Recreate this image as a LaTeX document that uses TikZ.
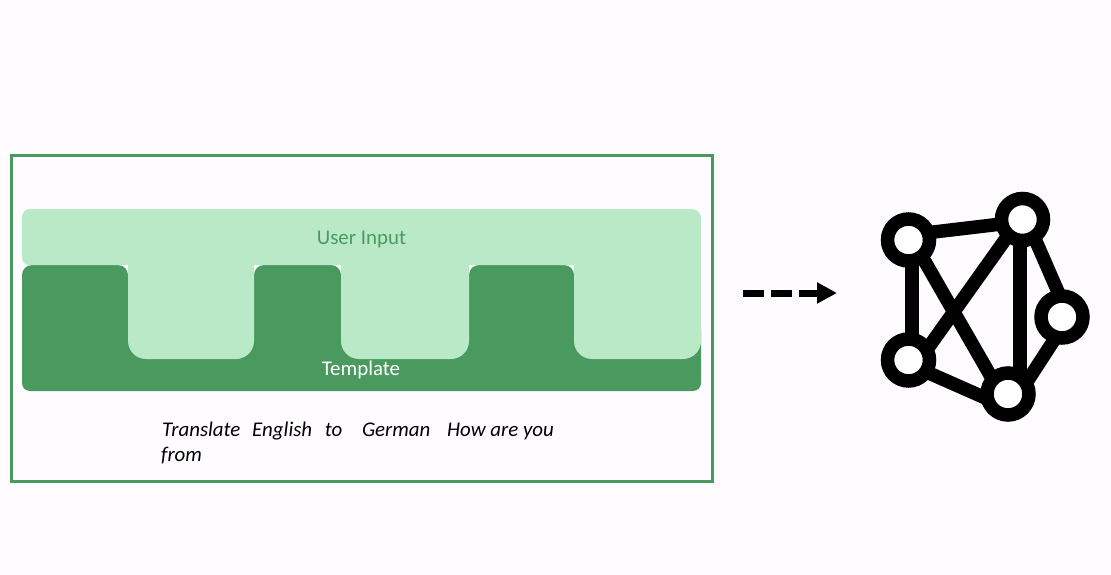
\documentclass[tikz,border=0pt]{standalone}
\usepackage{fontspec}
\setmainfont{Carlito}
\usetikzlibrary{arrows.meta}
\definecolor{dk}{HTML}{4A9A60}
\definecolor{lt}{HTML}{BAE9C8}
\definecolor{bgc}{HTML}{FEFCFE}
\pgfdeclarelayer{back}
\pgfdeclarelayer{edges}
\pgfsetlayers{back,edges,main}
\tikzset{
  netnode/.style={circle,draw=black,fill=white,line width=13.5pt,minimum size=42pt,inner sep=0pt},
  netedge/.style={draw=black,line width=13.5pt},
  lab/.style={font=\fontsize{20.9}{25}\selectfont,inner sep=0pt,anchor=base},
}
\begin{document}
\begin{tikzpicture}[x=1pt,y=-1pt]
\useasboundingbox (0,0) rectangle (1111,575);
\begin{pgfonlayer}{back}
\fill[bgc] (0,0) rectangle (1111,575);
\end{pgfonlayer}
% frame
\draw[dk,line width=3pt] (11.5,155.5) rectangle (712.5,481);
% notch corners
\fill[white] (254,265) rectangle (341,285);
\fill[white] (469,265) rectangle (574,285);
\fill[white] (118,265) rectangle (128,285);
% template
\fill[dk] (22,275) arc[start angle=180,end angle=270,radius=10] -- (118,265) arc[start angle=270,end angle=360,radius=10]
  -- (128,330) -- (254,330) -- (254,275) arc[start angle=180,end angle=270,radius=10]
  -- (331,265) arc[start angle=270,end angle=360,radius=10] -- (341,330) -- (469,330) -- (469,275)
  arc[start angle=180,end angle=270,radius=10] -- (564,265) arc[start angle=270,end angle=360,radius=10]
  -- (574,330) -- (701,330) -- (701,383) arc[start angle=0,end angle=90,radius=8]
  -- (30,391) arc[start angle=90,end angle=180,radius=8] -- cycle;
% user input
\fill[lt] (22,217) arc[start angle=180,end angle=270,radius=8] -- (692,209) arc[start angle=-90,end angle=0,radius=9]
  -- (701,341) arc[start angle=0,end angle=90,radius=18] -- (592,359) arc[start angle=90,end angle=180,radius=18]
  -- (574,265) -- (469,265) -- (469,341) arc[start angle=0,end angle=90,radius=18] -- (359,359)
  arc[start angle=90,end angle=180,radius=18] -- (341,265) -- (254,265) -- (254,341)
  arc[start angle=0,end angle=90,radius=18] -- (146,359) arc[start angle=90,end angle=180,radius=18]
  -- (128,265) -- (29,265) arc[start angle=90,end angle=180,radius=7] -- cycle;
\node[lab,text=dk] (userinput) at (361.5,244) {User Input};
\node[lab,text=white] (template) at (361,375) {Template};
\node[font=\fontsize{20.9}{25}\selectfont\itshape,inner sep=0pt,anchor=base west,align=left] (prompt) at (162,461)
  {Translate\hspace{7pt} English\hspace{8pt} to\hspace{15pt} German\hspace{12pt} How are you\\\hspace{-1pt}from};
% arrow
\coordinate (arrowstart) at (743,293);
\coordinate (arrowend) at (837,293);
\draw[line width=7pt,dash pattern=on 20.5pt off 7.5pt,-{Triangle[length=20pt,width=20pt]}] (arrowstart) -- (arrowend);
% network
\node[netnode] (na) at (908.5,240) {};
\node[netnode] (nb) at (1022.5,219.5) {};
\node[netnode] (nc) at (1062,317) {};
\node[netnode] (nd) at (1008,394) {};
\node[netnode] (ne) at (908.5,360) {};
\begin{pgfonlayer}{edges}
\draw[netedge] ([shift={(0,-5)}]na.center) -- ([shift={(0,2)}]nb.center);
\draw[netedge] ([shift={(3.5,0)}]na.center) -- ([shift={(3.5,0)}]ne.center);
\draw[netedge] ([shift={(4,0)}]na.center) -- ([shift={(-7,0)}]nd.center);
\draw[netedge] ([shift={(11,0)}]ne.center) -- ([shift={(-3,0)}]nb.center);
\draw[netedge] ([shift={(4,0)}]nb.center) -- ([shift={(7,0)}]nc.center);
\draw[netedge] ([shift={(7,0)}]nc.center) -- ([shift={(11,0)}]nd.center);
\draw[netedge] ([shift={(-2.5,0)}]nb.center) -- ([shift={(12,0)}]nd.center);
\draw[netedge] ([shift={(0,4)}]ne.center) -- ([shift={(0,14)}]nd.center);
\end{pgfonlayer}
\end{tikzpicture}
\end{document}
